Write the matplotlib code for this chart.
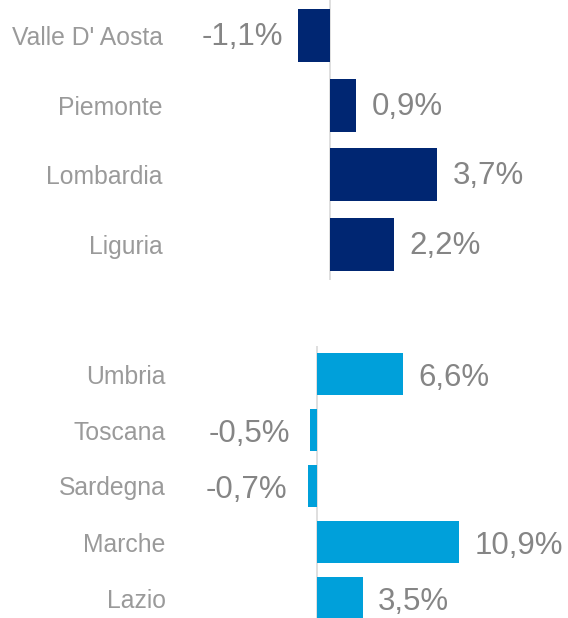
import matplotlib.pyplot as plt

plt.rcParams['font.family'] = ['Liberation Sans', 'DejaVu Sans']

# dati
regioni_nord = ["Valle D' Aosta", "Piemonte", "Lombardia", "Liguria"]
valori_nord = [-1.1, 0.9, 3.7, 2.2]
regioni_centro = ["Umbria", "Toscana", "Sardegna", "Marche", "Lazio"]
valori_centro = [6.6, -0.5, -0.7, 10.9, 3.5]

W, H = 568, 618
fig = plt.figure(figsize=(W / 100, H / 100), dpi=100)


def fmt(v):
    return ('%.1f%%' % v).replace('.', ',')


def pannello(rect_px, zero_px, px_unit, pitch, ytop, cats, vals, colore, dy, dneg):
    x0, y0, x1, y1 = rect_px  # pixel, origine in alto a sinistra
    ax = fig.add_axes([x0 / W, 1 - y1 / H, (x1 - x0) / W, (y1 - y0) / H])
    pos = list(range(len(cats)))
    ax.barh(pos, vals, height=0.76, color=colore, zorder=2)
    ax.set_xlim((x0 - zero_px) / px_unit, (x1 - zero_px) / px_unit)
    ax.set_ylim(ytop + (y1 - y0) / pitch, ytop)
    ax.axvline(0, color='#d9d9d9', lw=1.2, zorder=1)
    ax.set_yticks(pos)
    ax.set_yticklabels(cats, fontsize=17.8, color='#9a9a9a')
    ax.tick_params(axis='y', length=0, pad=9)
    ax.set_xticks([])
    for s in ax.spines.values():
        s.set_visible(False)
    for p, v in zip(pos, vals):
        if v >= 0:
            ax.annotate(fmt(v), (v, p), xytext=(11, dy), textcoords='offset points',
                        ha='left', va='center', fontsize=22.5, color='#858585')
        else:
            ax.annotate(fmt(v), (v, p), xytext=(dneg, dy), textcoords='offset points',
                        ha='right', va='center', fontsize=22.5, color='#858585')
    return ax


pannello((175, 0, 568, 280), 330, 29.0, 69.7, -0.51,
         regioni_nord, valori_nord, '#002672', -1, -11)
pannello((178, 346, 568, 618), 317, 13.05, 56.0, -0.5,
         regioni_centro, valori_centro, '#00a0da', -3, -15)

fig.savefig('out.png', dpi=100)
